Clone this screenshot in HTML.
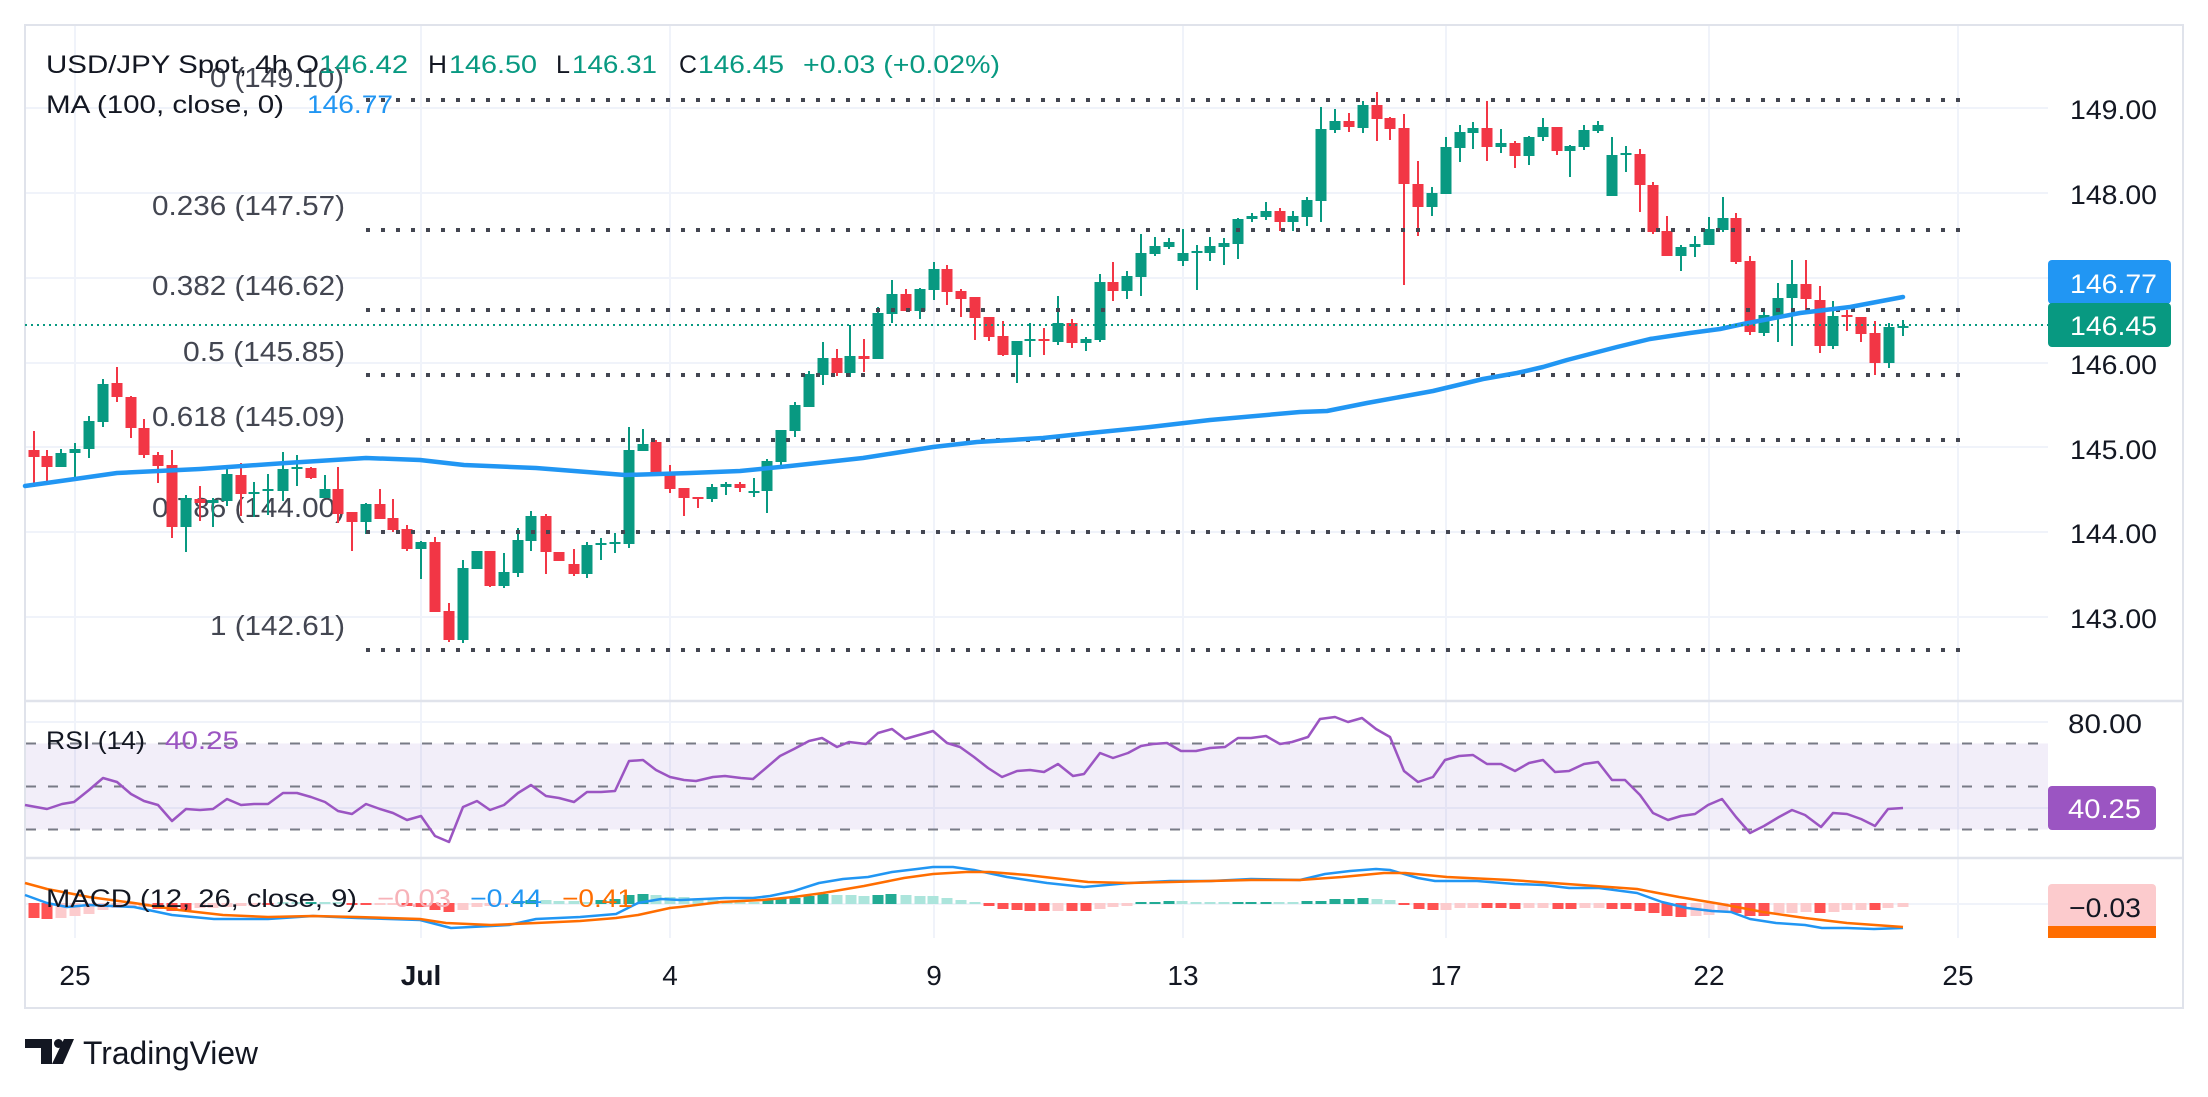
<!DOCTYPE html>
<html><head><meta charset="utf-8"><style>html,body{margin:0;padding:0;background:#fff;}svg{display:block;}text{font-family:"Liberation Sans",sans-serif;}</style></head>
<body>
<svg width="2208" height="1097" viewBox="0 0 2208 1097" xmlns="http://www.w3.org/2000/svg">
<rect x="0" y="0" width="2208" height="1097" fill="#ffffff"/>
<!-- grid -->
<g stroke="#f0f3fa" stroke-width="2">
<path d="M75 25V938M421 25V938M670 25V938M934 25V938M1183 25V938M1446 25V938M1709 25V938M1958 25V938"/>
<path d="M25 108H2048M25 193H2048M25 278H2048M25 363H2048M25 447H2048M25 532H2048M25 617H2048M25 722H2048M25 808H2048M25 904H2048"/>
</g>
<!-- RSI band -->
<rect x="25" y="743.5" width="2023" height="86" fill="#7e57c2" fill-opacity="0.1"/>
<g stroke="#787b86" stroke-width="2" stroke-dasharray="10 12">
<path d="M26 743.5H2048M26 786.5H2048M26 829.5H2048"/>
</g>
<!-- frame -->
<rect x="25" y="25" width="2158" height="983" fill="none" stroke="#e0e3eb" stroke-width="2"/>
<path d="M25 701H2183M25 858H2183" stroke="#e0e3eb" stroke-width="2.5"/>
<!-- fib labels -->
<g fill="#434651" font-size="28">
<text x="210" y="87" textLength="134" lengthAdjust="spacingAndGlyphs">0 (149.10)</text>
<text x="152" y="215" textLength="193" lengthAdjust="spacingAndGlyphs">0.236 (147.57)</text>
<text x="152" y="295" textLength="193" lengthAdjust="spacingAndGlyphs">0.382 (146.62)</text>
<text x="183" y="361" textLength="162" lengthAdjust="spacingAndGlyphs">0.5 (145.85)</text>
<text x="152" y="426" textLength="193" lengthAdjust="spacingAndGlyphs">0.618 (145.09)</text>
<text x="152" y="517" textLength="193" lengthAdjust="spacingAndGlyphs">0.786 (144.00)</text>
<text x="210" y="635" textLength="135" lengthAdjust="spacingAndGlyphs">1 (142.61)</text>
</g>
<!-- candles -->
<path stroke="#089981" stroke-width="2" fill="none" d="M61 449V467M75 443V478M89 416V458M103 379V427M186 495V552M213 498V527M227 469V506M254 482V517M268 474V515M283 452V501M297 455V486M325 475V498M366 503V534M421 541V579M463 560V643M477 551V569M504 553V588M518 528V577M531 511V551M587 542V578M601 538V560M615 533V553M629 427V548M643 429V451M712 484V502M726 482V495M754 478V497M767 459V513M781 430V465M795 402V437M809 371V407M823 342V385M850 325V377M878 307V359M892 280V323M920 288V319M934 262V300M1017 341V383M1030 323V357M1058 296V345M1086 337V351M1100 274V342M1127 271V299M1141 234V296M1155 237V256M1169 238V249M1183 229V266M1197 245V290M1210 237V261M1224 238V265M1238 218V259M1252 213V222M1266 202V220M1293 211V231M1307 197V226M1321 107V222M1335 109V133M1363 101V133M1432 187V216M1446 137V194M1460 125V162M1473 122V149M1501 129V153M1529 136V165M1543 118V141M1570 145V177M1584 125V150M1598 121V133M1612 137V196M1626 146V172M1681 245V271M1695 236V257M1709 217V245M1723 197V232M1764 312V336M1778 283V342M1792 260V346M1833 301V349M1889 323V368M1903 320V336"/>
<path stroke="#089981" stroke-width="11" fill="none" d="M61 453V467M75 449V453M89 421V449M103 384V422M186 498V527M213 500V503M227 474V501M254 492V494M268 489V491M283 469V491M297 467V469M325 489V498M366 504V522M421 542V549M463 568V640M477 551V569M504 572V586M518 540V573M531 516V541M587 545V574M601 543V545M615 542V544M629 450V544M643 444V451M712 487V499M726 484V487M754 491V493M767 461V491M781 430V462M795 405V431M809 374V407M823 358V375M850 356V373M878 313V359M892 294V314M920 289V311M934 269V290M1017 341V355M1030 339V341M1058 323V342M1086 339V343M1100 282V340M1127 276V291M1141 253V277M1155 246V254M1169 242V247M1183 253V261M1197 251V253M1210 246V253M1224 243V247M1238 219V244M1252 216V219M1266 211V217M1293 216V222M1307 200V217M1321 129V201M1335 121V130M1363 105V128M1432 193V207M1446 147V194M1460 132V148M1473 128V133M1501 143V147M1529 137V156M1543 127V137M1570 146V151M1584 130V147M1598 125V131M1612 155V196M1626 153V155M1681 247V256M1695 244V247M1709 229V245M1723 218V230M1764 315V333M1778 298V316M1792 284V298M1833 316V346M1889 327V363M1903 326V328"/>
<path stroke="#f23645" stroke-width="2" fill="none" d="M34 431V487M47 450V483M117 367V402M131 396V438M144 419V458M158 452V483M172 450V538M200 486V521M241 463V516M311 467V479M338 467V523M352 512V551M380 489V519M393 499V532M407 525V551M435 537V612M449 603V642M490 551V587M546 514V574M559 552V561M574 549V576M656 440V473M670 465V493M684 488V516M698 497V508M740 482V492M837 349V376M864 339V372M906 289V311M947 265V305M961 289V317M975 297V340M989 317V341M1003 321V356M1044 328V355M1072 319V348M1113 262V301M1280 208V231M1349 113V132M1377 92V141M1390 117V140M1404 114V285M1418 161V236M1487 101V161M1515 141V168M1557 127V155M1640 149V212M1653 182V234M1667 216V256M1736 213V264M1750 256V335M1806 260V311M1820 286V353M1847 310V331M1861 317V342M1875 321V375"/>
<path stroke="#f23645" stroke-width="11" fill="none" d="M34 450V457M47 456V467M117 383V397M131 397V428M144 428V455M158 455V466M172 465V527M200 499V503M241 475V494M311 468V478M338 489V514M352 512V522M380 504V519M393 518V530M407 529V549M435 542V612M449 611V640M490 551V586M546 516V552M559 552V561M574 564V574M656 442V473M670 472V489M684 488V498M698 497V499M740 484V488M837 358V373M864 356V359M906 294V311M947 269V292M961 291V299M975 297V318M989 317V337M1003 336V355M1044 339V341M1072 323V343M1113 282V291M1280 211V222M1349 121V127M1377 105V119M1390 118V129M1404 128V184M1418 184V207M1487 128V147M1515 143V156M1557 127V151M1640 154V185M1653 185V232M1667 231V256M1736 218V262M1750 261V332M1806 284V299M1820 300V346M1847 315V317M1861 317V334M1875 333V363"/>
<!-- fib lines -->
<g stroke="#434651" stroke-width="4" stroke-dasharray="4 11">
<path d="M366 100H1960M366 230H1960M366 310H1960M366 375H1960M366 440H1960M366 532H1960M366 650H1960"/>
</g>
<!-- MA -->
<polyline fill="none" stroke="#2196f3" stroke-width="4.5" stroke-linejoin="round" stroke-linecap="round" points="25,486 75,479 117,473 200,469 286,463 366,458 420,460 464,465 536,468 625,475 690,473 740,471 790,466 863,458 933,447 977,442 1043,438 1090,433 1150,427 1210,420 1300,412 1327,411 1367,403 1433,391 1483,379 1517,373 1543,367 1567,360 1617,347 1650,339 1690,333 1720,329 1743,324 1800,313 1850,307 1903,297"/>
<!-- current price line -->
<path d="M25 325H2048" stroke="#089981" stroke-width="2" stroke-dasharray="2 4"/>
<!-- RSI line -->
<polyline fill="none" stroke="#9b55c2" stroke-width="2.5" stroke-linejoin="round" points="25,805 47,809 62,804 74,802 89,790 103,778 117,782 131,794 144,801 158,805 172,821 186,809 200,810 213,809 227,799 241,805 254,804 268,804 283,793 297,793 311,797 325,802 338,811 352,814 366,804 380,809 393,813 407,820 421,816 435,836 449,842 463,807 477,801 490,810 504,805 518,793 531,785 546,796 559,798 574,802 587,792 601,792 615,791 629,761 643,760 656,770 670,777 684,780 696,781 713,777 725,776 741,778 753,779 766,768 780,756 794,749 809,741 822,738 837,747 849,742 866,744 878,733 892,729 905,739 919,735 933,731 947,743 960,747 974,757 988,768 1002,777 1017,771 1030,770 1044,772 1058,764 1073,776 1084,774 1100,753 1113,758 1128,753 1141,746 1153,744 1167,743 1181,751 1196,751 1210,748 1225,747 1238,738 1251,738 1266,736 1280,744 1292,742 1308,737 1320,719 1335,717 1348,722 1362,718 1376,729 1390,737 1404,771 1418,782 1433,777 1445,760 1459,756 1473,755 1487,764 1501,764 1515,771 1529,763 1543,760 1555,772 1569,771 1584,764 1598,762 1612,780 1625,780 1640,795 1653,813 1668,820 1681,816 1695,814 1708,805 1722,799 1736,817 1750,833 1764,826 1779,817 1792,810 1805,815 1821,827 1833,813 1847,814 1861,819 1875,826 1888,809 1903,808"/>
<!-- MACD histogram -->
<path stroke="#ff5252" stroke-width="11" fill="none" d="M34 903V918M47 903V919M158 903V909M172 903V911M186 903V910M268 903V905M352 903V905M366 903V905M407 903V906M421 903V907M435 903V910M449 903V912M989 903V906M1003 903V909M1017 903V910M1030 903V911M1044 903V911M1072 903V911M1086 903V911M1404 903V905M1419 903V909M1433 903V910M1487 903V908M1501 903V908M1515 903V909M1558 903V909M1571 903V909M1612 903V909M1626 903V909M1640 903V911M1654 903V913M1667 903V916M1681 903V917M1736 903V913M1750 903V916M1764 903V916M1820 903V913M1875 903V910"/>
<path stroke="#fccbcd" stroke-width="11" fill="none" d="M61 903V918M75 903V916M89 903V914M103 903V910M117 903V908M131 903V907M144 903V907M200 903V908M213 903V908M227 903V907M241 903V906M254 903V906M380 903V905M393 903V905M463 903V910M477 903V907M490 903V906M504 903V905M1058 903V911M1100 903V909M1113 903V907M1127 903V906M1446 903V910M1460 903V908M1473 903V908M1529 903V908M1543 903V908M1585 903V908M1599 903V908M1696 903V916M1709 903V915M1723 903V911M1779 903V913M1792 903V913M1806 903V912M1834 903V912M1847 903V910M1861 903V910M1888 903V908M1903 903V907"/>
<path stroke="#22ab94" stroke-width="11" fill="none" d="M311 902V904M518 901V904M531 900V904M601 900V904M615 899V904M629 895V904M643 894V904M768 899V904M781 898V904M795 898V904M809 896V904M823 894V904M878 895V904M891 894V904M1141 902V904M1155 902V904M1169 901V904M1238 902V904M1251 902V904M1266 902V904M1307 901V904M1321 901V904M1335 899V904M1349 899V904M1363 898V904"/>
<path stroke="#ace5dc" stroke-width="11" fill="none" d="M283 902V904M297 902V904M325 902V904M338 902V904M546 900V904M559 901V904M574 901V904M587 902V904M656 895V904M670 897V904M684 897V904M698 900V904M713 900V904M727 901V904M740 902V904M754 902V904M837 895V904M851 895V904M864 896V904M906 895V904M920 896V904M933 896V904M947 898V904M961 900V904M975 902V904M1182 901V904M1196 902V904M1210 902V904M1224 902V904M1279 902V904M1293 902V904M1377 899V904M1390 900V904"/>
<!-- MACD lines -->
<polyline fill="none" stroke="#2196f3" stroke-width="2.5" stroke-linejoin="round" points="25,895 47,903 67,907 89,905 134,907 172,915 214,919 268,919 313,916 357,918 420,920 451,928 491,926 509,925 536,919 580,917 616,914 638,903 661,899 680,900 704,899 725,898 753,898 770,896 794,891 819,883 843,879 868,877 892,872 917,869 933,867 953,867 974,870 1007,877 1047,883 1084,887 1129,883 1170,881 1211,881 1251,879 1300,880 1325,874 1350,871 1376,869 1390,870 1418,878 1435,881 1477,881 1515,884 1544,885 1569,888 1599,888 1637,893 1662,902 1687,908 1712,911 1731,912 1750,919 1776,923 1805,925 1822,928 1847,928 1874,929 1903,928"/>
<polyline fill="none" stroke="#ff6d00" stroke-width="2.5" stroke-linejoin="round" points="25,883 47,889 89,897 134,903 179,910 223,915 268,917 313,916 357,917 420,919 446,923 491,925 536,923 580,921 616,918 638,915 670,908 680,907 721,902 762,900 794,897 823,893 864,886 904,878 933,874 966,872 990,872 1027,875 1088,882 1129,883 1170,882 1251,880 1300,880 1342,877 1384,873 1405,873 1447,877 1510,880 1553,883 1595,886 1637,889 1679,897 1721,904 1763,912 1805,918 1847,923 1903,927"/>
<!-- legends -->
<g font-size="25">
<text x="46" y="73" fill="#131722" textLength="273" lengthAdjust="spacingAndGlyphs">USD/JPY Spot, 4h  O</text>
<text x="319" y="73" fill="#089981" textLength="89" lengthAdjust="spacingAndGlyphs">146.42</text>
<text x="428" y="73" fill="#131722" textLength="19" lengthAdjust="spacingAndGlyphs">H</text>
<text x="449" y="73" fill="#089981" textLength="88" lengthAdjust="spacingAndGlyphs">146.50</text>
<text x="556" y="73" fill="#131722" textLength="14" lengthAdjust="spacingAndGlyphs">L</text>
<text x="572" y="73" fill="#089981" textLength="85" lengthAdjust="spacingAndGlyphs">146.31</text>
<text x="679" y="73" fill="#131722" textLength="18" lengthAdjust="spacingAndGlyphs">C</text>
<text x="698" y="73" fill="#089981" textLength="86" lengthAdjust="spacingAndGlyphs">146.45</text>
<text x="803" y="73" fill="#089981" textLength="197" lengthAdjust="spacingAndGlyphs">+0.03 (+0.02%)</text>
<text x="46" y="113" fill="#131722" textLength="238" lengthAdjust="spacingAndGlyphs">MA (100, close, 0)</text>
<text x="307" y="113" fill="#2196f3" textLength="86" lengthAdjust="spacingAndGlyphs">146.77</text>
<text x="46" y="749" fill="#131722" textLength="99" lengthAdjust="spacingAndGlyphs">RSI (14)</text>
<text x="165" y="749" fill="#9b55c2" textLength="74" lengthAdjust="spacingAndGlyphs">40.25</text>
<text x="46" y="907" fill="#131722" textLength="311" lengthAdjust="spacingAndGlyphs">MACD (12, 26, close, 9)</text>
<text x="377" y="907" fill="#f7b2b8" textLength="74" lengthAdjust="spacingAndGlyphs">−0.03</text>
<text x="470" y="907" fill="#2196f3" textLength="72" lengthAdjust="spacingAndGlyphs">−0.44</text>
<text x="562" y="907" fill="#ff6d00" textLength="71" lengthAdjust="spacingAndGlyphs">−0.41</text>
</g>
<!-- price axis -->
<g font-size="27" fill="#131722">
<text x="2070" y="119" textLength="87" lengthAdjust="spacingAndGlyphs">149.00</text>
<text x="2070" y="204" textLength="87" lengthAdjust="spacingAndGlyphs">148.00</text>
<text x="2070" y="374" textLength="87" lengthAdjust="spacingAndGlyphs">146.00</text>
<text x="2070" y="459" textLength="87" lengthAdjust="spacingAndGlyphs">145.00</text>
<text x="2070" y="543" textLength="87" lengthAdjust="spacingAndGlyphs">144.00</text>
<text x="2070" y="628" textLength="87" lengthAdjust="spacingAndGlyphs">143.00</text>
<text x="2068" y="733" textLength="74" lengthAdjust="spacingAndGlyphs">80.00</text>
</g>
<rect x="2048" y="260" width="123" height="44" rx="4" fill="#2196f3"/>
<rect x="2048" y="303" width="123" height="44" rx="4" fill="#089981"/>
<rect x="2048" y="786" width="108" height="44" rx="4" fill="#9b55c2"/>
<rect x="2048" y="884" width="108" height="44" rx="4" fill="#fccbcd"/>
<rect x="2048" y="926" width="108" height="12" fill="#ff6d00"/>
<g font-size="27">
<text x="2070" y="293" fill="#ffffff" textLength="87" lengthAdjust="spacingAndGlyphs">146.77</text>
<text x="2070" y="335" fill="#ffffff" textLength="87" lengthAdjust="spacingAndGlyphs">146.45</text>
<text x="2068" y="818" fill="#ffffff" textLength="73" lengthAdjust="spacingAndGlyphs">40.25</text>
<text x="2069" y="917" fill="#131722" textLength="72" lengthAdjust="spacingAndGlyphs">−0.03</text>
</g>
<!-- date axis -->
<g font-size="28" fill="#131722" text-anchor="middle">
<text x="75" y="985">25</text>
<text x="421" y="985" font-weight="bold">Jul</text>
<text x="670" y="985">4</text>
<text x="934" y="985">9</text>
<text x="1183" y="985">13</text>
<text x="1446" y="985">17</text>
<text x="1709" y="985">22</text>
<text x="1958" y="985">25</text>
</g>
<!-- logo -->
<g fill="#131722">
<path d="M25 1039H52V1064H41V1048H25Z"/>
<circle cx="58.5" cy="1043.5" r="4.5"/>
<path d="M64 1039H74L63 1064H52Z"/>
<text x="83" y="1064" font-size="32" textLength="175" lengthAdjust="spacingAndGlyphs">TradingView</text>
</g>
</svg>
</body></html>
